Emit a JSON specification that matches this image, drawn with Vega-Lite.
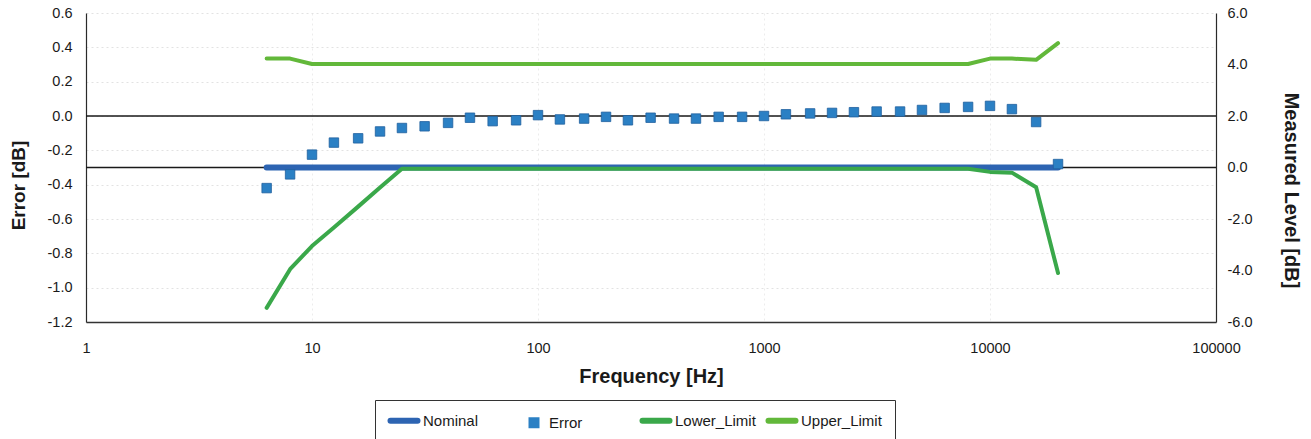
{
  "$schema": "https://vega.github.io/schema/vega-lite/v6.json",
  "width": 1130,
  "height": 309,
  "autosize": {"type": "none"},
  "padding": {"left": 86, "top": 13, "right": 95, "bottom": 117},
  "background": "white",
  "config": {
    "view": {"stroke": null},
    "font": "Liberation Sans",
    "axis": {
      "labelFont": "Liberation Sans",
      "titleFont": "Liberation Sans",
      "labelColor": "#1a1a1a",
      "titleColor": "#1a1a1a",
      "labelFontSize": 14.5,
      "titleFontSize": 19,
      "titleFontWeight": "bold",
      "ticks": false,
      "domainColor": "#2a2a2a",
      "domainWidth": 1.2
    }
  },
  "data": {
    "values": [
      {"freq": 6.3, "series": "Error", "db": -0.42},
      {"freq": 8, "series": "Error", "db": -0.34},
      {"freq": 10, "series": "Error", "db": -0.225},
      {"freq": 12.5, "series": "Error", "db": -0.155},
      {"freq": 16, "series": "Error", "db": -0.13},
      {"freq": 20, "series": "Error", "db": -0.09},
      {"freq": 25, "series": "Error", "db": -0.07},
      {"freq": 31.5, "series": "Error", "db": -0.06},
      {"freq": 40, "series": "Error", "db": -0.04},
      {"freq": 50, "series": "Error", "db": -0.01},
      {"freq": 63, "series": "Error", "db": -0.03},
      {"freq": 80, "series": "Error", "db": -0.025},
      {"freq": 100, "series": "Error", "db": 0.005},
      {"freq": 125, "series": "Error", "db": -0.02},
      {"freq": 160, "series": "Error", "db": -0.015},
      {"freq": 200, "series": "Error", "db": -0.005},
      {"freq": 250, "series": "Error", "db": -0.025},
      {"freq": 315, "series": "Error", "db": -0.01},
      {"freq": 400, "series": "Error", "db": -0.015},
      {"freq": 500, "series": "Error", "db": -0.015},
      {"freq": 630, "series": "Error", "db": -0.005},
      {"freq": 800, "series": "Error", "db": -0.005},
      {"freq": 1000, "series": "Error", "db": 0},
      {"freq": 1250, "series": "Error", "db": 0.01},
      {"freq": 1600, "series": "Error", "db": 0.015},
      {"freq": 2000, "series": "Error", "db": 0.018},
      {"freq": 2500, "series": "Error", "db": 0.022},
      {"freq": 3150, "series": "Error", "db": 0.026},
      {"freq": 4000, "series": "Error", "db": 0.026},
      {"freq": 5000, "series": "Error", "db": 0.035},
      {"freq": 6300, "series": "Error", "db": 0.047},
      {"freq": 8000, "series": "Error", "db": 0.053},
      {"freq": 10000, "series": "Error", "db": 0.059},
      {"freq": 12500, "series": "Error", "db": 0.04},
      {"freq": 16000, "series": "Error", "db": -0.035},
      {"freq": 20000, "series": "Error", "db": -0.28},

      {"freq": 6.3, "series": "Nominal", "db": 0},
      {"freq": 8, "series": "Nominal", "db": 0},
      {"freq": 10, "series": "Nominal", "db": 0},
      {"freq": 12.5, "series": "Nominal", "db": 0},
      {"freq": 16, "series": "Nominal", "db": 0},
      {"freq": 20, "series": "Nominal", "db": 0},
      {"freq": 25, "series": "Nominal", "db": 0},
      {"freq": 31.5, "series": "Nominal", "db": 0},
      {"freq": 40, "series": "Nominal", "db": 0},
      {"freq": 50, "series": "Nominal", "db": 0},
      {"freq": 63, "series": "Nominal", "db": 0},
      {"freq": 80, "series": "Nominal", "db": 0},
      {"freq": 100, "series": "Nominal", "db": 0},
      {"freq": 125, "series": "Nominal", "db": 0},
      {"freq": 160, "series": "Nominal", "db": 0},
      {"freq": 200, "series": "Nominal", "db": 0},
      {"freq": 250, "series": "Nominal", "db": 0},
      {"freq": 315, "series": "Nominal", "db": 0},
      {"freq": 400, "series": "Nominal", "db": 0},
      {"freq": 500, "series": "Nominal", "db": 0},
      {"freq": 630, "series": "Nominal", "db": 0},
      {"freq": 800, "series": "Nominal", "db": 0},
      {"freq": 1000, "series": "Nominal", "db": 0},
      {"freq": 1250, "series": "Nominal", "db": 0},
      {"freq": 1600, "series": "Nominal", "db": 0},
      {"freq": 2000, "series": "Nominal", "db": 0},
      {"freq": 2500, "series": "Nominal", "db": 0},
      {"freq": 3150, "series": "Nominal", "db": 0},
      {"freq": 4000, "series": "Nominal", "db": 0},
      {"freq": 5000, "series": "Nominal", "db": 0},
      {"freq": 6300, "series": "Nominal", "db": 0},
      {"freq": 8000, "series": "Nominal", "db": 0},
      {"freq": 10000, "series": "Nominal", "db": 0},
      {"freq": 12500, "series": "Nominal", "db": 0},
      {"freq": 16000, "series": "Nominal", "db": 0},
      {"freq": 20000, "series": "Nominal", "db": 0},

      {"freq": 6.3, "series": "Lower_Limit", "db": -5.45},
      {"freq": 8, "series": "Lower_Limit", "db": -3.95},
      {"freq": 10, "series": "Lower_Limit", "db": -3.05},
      {"freq": 12.5, "series": "Lower_Limit", "db": -2.33},
      {"freq": 16, "series": "Lower_Limit", "db": -1.52},
      {"freq": 20, "series": "Lower_Limit", "db": -0.78},
      {"freq": 25, "series": "Lower_Limit", "db": -0.05},
      {"freq": 31.5, "series": "Lower_Limit", "db": -0.05},
      {"freq": 40, "series": "Lower_Limit", "db": -0.05},
      {"freq": 50, "series": "Lower_Limit", "db": -0.05},
      {"freq": 63, "series": "Lower_Limit", "db": -0.05},
      {"freq": 80, "series": "Lower_Limit", "db": -0.05},
      {"freq": 100, "series": "Lower_Limit", "db": -0.05},
      {"freq": 125, "series": "Lower_Limit", "db": -0.05},
      {"freq": 160, "series": "Lower_Limit", "db": -0.05},
      {"freq": 200, "series": "Lower_Limit", "db": -0.05},
      {"freq": 250, "series": "Lower_Limit", "db": -0.05},
      {"freq": 315, "series": "Lower_Limit", "db": -0.05},
      {"freq": 400, "series": "Lower_Limit", "db": -0.05},
      {"freq": 500, "series": "Lower_Limit", "db": -0.05},
      {"freq": 630, "series": "Lower_Limit", "db": -0.05},
      {"freq": 800, "series": "Lower_Limit", "db": -0.05},
      {"freq": 1000, "series": "Lower_Limit", "db": -0.05},
      {"freq": 1250, "series": "Lower_Limit", "db": -0.05},
      {"freq": 1600, "series": "Lower_Limit", "db": -0.05},
      {"freq": 2000, "series": "Lower_Limit", "db": -0.05},
      {"freq": 2500, "series": "Lower_Limit", "db": -0.05},
      {"freq": 3150, "series": "Lower_Limit", "db": -0.05},
      {"freq": 4000, "series": "Lower_Limit", "db": -0.05},
      {"freq": 5000, "series": "Lower_Limit", "db": -0.05},
      {"freq": 6300, "series": "Lower_Limit", "db": -0.05},
      {"freq": 8000, "series": "Lower_Limit", "db": -0.05},
      {"freq": 10000, "series": "Lower_Limit", "db": -0.17},
      {"freq": 12500, "series": "Lower_Limit", "db": -0.2},
      {"freq": 16000, "series": "Lower_Limit", "db": -0.77},
      {"freq": 20000, "series": "Lower_Limit", "db": -4.1},

      {"freq": 6.3, "series": "Upper_Limit", "db": 4.23},
      {"freq": 8, "series": "Upper_Limit", "db": 4.23},
      {"freq": 10, "series": "Upper_Limit", "db": 4.02},
      {"freq": 12.5, "series": "Upper_Limit", "db": 4.02},
      {"freq": 16, "series": "Upper_Limit", "db": 4.02},
      {"freq": 20, "series": "Upper_Limit", "db": 4.02},
      {"freq": 25, "series": "Upper_Limit", "db": 4.02},
      {"freq": 31.5, "series": "Upper_Limit", "db": 4.02},
      {"freq": 40, "series": "Upper_Limit", "db": 4.02},
      {"freq": 50, "series": "Upper_Limit", "db": 4.02},
      {"freq": 63, "series": "Upper_Limit", "db": 4.02},
      {"freq": 80, "series": "Upper_Limit", "db": 4.02},
      {"freq": 100, "series": "Upper_Limit", "db": 4.02},
      {"freq": 125, "series": "Upper_Limit", "db": 4.02},
      {"freq": 160, "series": "Upper_Limit", "db": 4.02},
      {"freq": 200, "series": "Upper_Limit", "db": 4.02},
      {"freq": 250, "series": "Upper_Limit", "db": 4.02},
      {"freq": 315, "series": "Upper_Limit", "db": 4.02},
      {"freq": 400, "series": "Upper_Limit", "db": 4.02},
      {"freq": 500, "series": "Upper_Limit", "db": 4.02},
      {"freq": 630, "series": "Upper_Limit", "db": 4.02},
      {"freq": 800, "series": "Upper_Limit", "db": 4.02},
      {"freq": 1000, "series": "Upper_Limit", "db": 4.02},
      {"freq": 1250, "series": "Upper_Limit", "db": 4.02},
      {"freq": 1600, "series": "Upper_Limit", "db": 4.02},
      {"freq": 2000, "series": "Upper_Limit", "db": 4.02},
      {"freq": 2500, "series": "Upper_Limit", "db": 4.02},
      {"freq": 3150, "series": "Upper_Limit", "db": 4.02},
      {"freq": 4000, "series": "Upper_Limit", "db": 4.02},
      {"freq": 5000, "series": "Upper_Limit", "db": 4.02},
      {"freq": 6300, "series": "Upper_Limit", "db": 4.02},
      {"freq": 8000, "series": "Upper_Limit", "db": 4.02},
      {"freq": 10000, "series": "Upper_Limit", "db": 4.23},
      {"freq": 12500, "series": "Upper_Limit", "db": 4.23},
      {"freq": 16000, "series": "Upper_Limit", "db": 4.18},
      {"freq": 20000, "series": "Upper_Limit", "db": 4.83}
    ]
  },
  "layer": [
    {
      "layer": [
        {
          "data": {"values": [{}]},
          "mark": {"type": "rule", "color": "#1a1a1a", "strokeWidth": 1.5},
          "encoding": {
            "y": {
              "datum": 0, "type": "quantitative",
              "scale": {"domain": [-6, 6], "nice": false, "zero": false},
              "axis": {
                "orient": "right", "values": [-6, -4, -2, 0, 2, 4, 6],
                "labelExpr": "(datum.value < -0.001 ? '-' : '') + format(abs(datum.value), '.1f')",
                "title": "Measured Level [dB]", "grid": false, "labelPadding": 11,
                "titleFontSize": 20,
                "titleX": 74, "titleY": 177, "titleAngle": 90, "titleBaseline": "middle", "titleAlign": "center",
                "domainColor": "#2a2a2a"
              }
            }
          }
        },
        {
          "transform": [{"filter": "datum.series === 'Nominal'"}],
          "mark": {"type": "line", "strokeWidth": 6, "strokeCap": "round"},
          "encoding": {
            "x": {
              "field": "freq", "type": "quantitative",
              "scale": {"type": "log", "domain": [1, 100000], "nice": false},
              "axis": {"values": [1, 10, 100, 1000, 10000, 100000], "format": "d", "title": "Frequency [Hz]", "labelFlush": false, "labelPadding": 19, "titlePadding": 12, "titleFontSize": 20, "grid": true, "gridColor": "#ececec", "gridDash": [2, 3], "domainColor": "#333", "domainWidth": 1.5}
            },
            "y": {
              "field": "db", "type": "quantitative",
              "scale": {"domain": [-6, 6], "nice": false, "zero": false},
              "axis": {
                "orient": "right", "values": [-6, -4, -2, 0, 2, 4, 6],
                "labelExpr": "(datum.value < -0.001 ? '-' : '') + format(abs(datum.value), '.1f')",
                "title": "Measured Level [dB]", "grid": false, "labelPadding": 11,
                "titleFontSize": 20,
                "titleX": 74, "titleY": 177, "titleAngle": 90, "titleBaseline": "middle", "titleAlign": "center",
                "domainColor": "#2a2a2a"
              }
            },
            "color": {
              "field": "series", "type": "nominal",
              "scale": {"domain": ["Nominal", "Error", "Lower_Limit", "Upper_Limit"], "range": ["#2d64b2", "#2b80c4", "#3aa84a", "#62b83a"]},
              "legend": {
                "orient": "none", "legendX": 289, "legendY": 387, "direction": "horizontal", "columns": 4,
                "title": null, "strokeColor": "#333", "fillColor": "#ffffff", "padding": 13,
                "labelFont": "Liberation Sans", "labelFontSize": 15, "labelColor": "#1a1a1a",
                "labelOffset": 20, "columnPadding": 0, "gridAlign": "all",
                "encode": {
                  "symbols": {
                    "update": {
                      "shape": {"signal": "datum.value === 'Error' ? 'square' : 'stroke'"},
                      "size": {"signal": "datum.value === 'Error' ? 121 : 729"},
                      "x": {"signal": "datum.value === 'Error' ? 20 : 16"},
                      "fill": {"signal": "datum.value === 'Error' ? scale('color', datum.value) : 'transparent'"},
                      "stroke": {"signal": "scale('color', datum.value)"},
                      "strokeWidth": {"signal": "datum.value === 'Error' ? 0 : 6"},
                      "strokeCap": {"value": "round"},
                      "opacity": {"value": 1}
                    }
                  }
                }
              }
            }
          }
        },
        {
          "transform": [{"filter": "datum.series === 'Lower_Limit' || datum.series === 'Upper_Limit'"}],
          "mark": {"type": "line", "strokeWidth": 4, "strokeCap": "round", "strokeJoin": "round"},
          "encoding": {
            "x": {
              "field": "freq", "type": "quantitative",
              "scale": {"type": "log", "domain": [1, 100000], "nice": false},
              "axis": {"values": [1, 10, 100, 1000, 10000, 100000], "format": "d", "title": "Frequency [Hz]", "labelFlush": false, "labelPadding": 19, "titlePadding": 12, "titleFontSize": 20, "grid": true, "gridColor": "#ececec", "gridDash": [2, 3], "domainColor": "#333", "domainWidth": 1.5}
            },
            "y": {
              "field": "db", "type": "quantitative",
              "scale": {"domain": [-6, 6], "nice": false, "zero": false},
              "axis": {
                "orient": "right", "values": [-6, -4, -2, 0, 2, 4, 6],
                "labelExpr": "(datum.value < -0.001 ? '-' : '') + format(abs(datum.value), '.1f')",
                "title": "Measured Level [dB]", "grid": false, "labelPadding": 11,
                "titleFontSize": 20,
                "titleX": 74, "titleY": 177, "titleAngle": 90, "titleBaseline": "middle", "titleAlign": "center",
                "domainColor": "#2a2a2a"
              }
            },
            "color": {"field": "series", "type": "nominal"}
          }
        }
      ]
    },
    {
      "layer": [
        {
          "data": {"values": [{}]},
          "mark": {"type": "rule", "color": "#1a1a1a", "strokeWidth": 1.5},
          "encoding": {
            "y": {
              "datum": 0, "type": "quantitative",
              "scale": {"domain": [-1.2, 0.6], "nice": false, "zero": false},
              "axis": {
                "orient": "left", "values": [-1.2, -1, -0.8, -0.6, -0.4, -0.2, 0, 0.2, 0.4, 0.6],
                "labelExpr": "(datum.value < -0.001 ? '-' : '') + format(abs(datum.value), '.1f')",
                "title": "Error [dB]", "grid": true, "gridColor": "#e2e2e2", "gridDash": [2, 3],
                "labelPadding": 14, "titleX": -68, "titleY": 172, "titleAngle": -90, "titleBaseline": "middle", "titleAlign": "center",
                "domainColor": "#2a2a2a"
              }
            }
          }
        },
        {
          "transform": [{"filter": "datum.series === 'Error'"}],
          "mark": {"type": "point", "shape": "square", "filled": true, "size": 90, "stroke": "#1f5f9e", "strokeWidth": 0.8, "opacity": 1},
          "encoding": {
            "x": {
              "field": "freq", "type": "quantitative",
              "scale": {"type": "log", "domain": [1, 100000], "nice": false},
              "axis": {"values": [1, 10, 100, 1000, 10000, 100000], "format": "d", "title": "Frequency [Hz]", "labelFlush": false, "labelPadding": 19, "titlePadding": 12, "titleFontSize": 20, "grid": true, "gridColor": "#ececec", "gridDash": [2, 3], "domainColor": "#333", "domainWidth": 1.5}
            },
            "y": {
              "field": "db", "type": "quantitative",
              "scale": {"domain": [-1.2, 0.6], "nice": false, "zero": false},
              "axis": {
                "orient": "left", "values": [-1.2, -1, -0.8, -0.6, -0.4, -0.2, 0, 0.2, 0.4, 0.6],
                "labelExpr": "(datum.value < -0.001 ? '-' : '') + format(abs(datum.value), '.1f')",
                "title": "Error [dB]", "grid": true, "gridColor": "#e2e2e2", "gridDash": [2, 3],
                "labelPadding": 14, "titleX": -68, "titleY": 172, "titleAngle": -90, "titleBaseline": "middle", "titleAlign": "center",
                "domainColor": "#2a2a2a"
              }
            },
            "color": {"field": "series", "type": "nominal"}
          }
        }
      ]
    }
  ],
  "resolve": {"scale": {"y": "independent"}}
}
